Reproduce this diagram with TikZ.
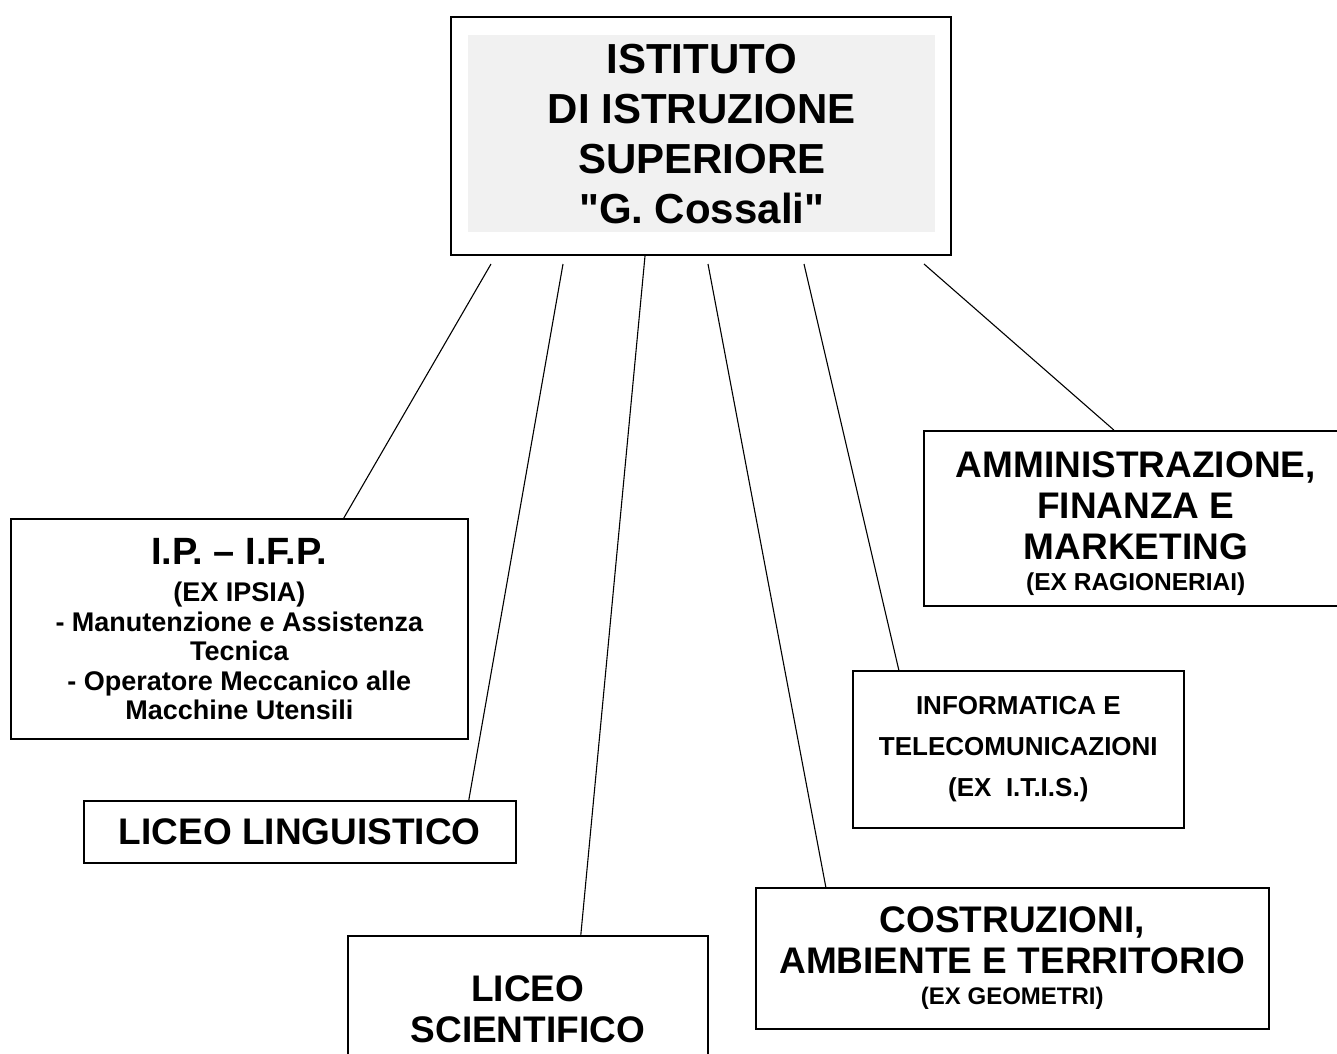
\documentclass[tikz,border=0pt]{standalone}
\usepackage{fontspec}
\setmainfont{Liberation Sans}[Ligatures=TeXOff]
\definecolor{titlegray}{HTML}{F1F1F1}

\begin{document}
\begin{tikzpicture}[x = 1pt, y = -1pt, font = \bfseries,
        box/.style = {draw, line width = 1.6pt, anchor = north west, align = center, inner sep = 0pt},
        link/.style = {line width = 1.1pt},
        big/.style = {font = \fontsize{37}{41}\selectfont\bfseries},
        small/.style = {font = \fontsize{26}{41}\selectfont\bfseries}]
        \useasboundingbox (0,0) rectangle (1337,1053);
        \clip (0,0) rectangle (1337,1053);

        % the school
        \node [box, line width = 2pt, minimum width = 500pt, minimum height = 238pt] (top) at (450,16) {};
        \node [fill = titlegray, anchor = north west, align = center, inner sep = 0pt,
               minimum width = 467pt, minimum height = 197pt,
               font = \fontsize{42}{50}\selectfont\bfseries] (name) at (468,35)
               {ISTITUTO\\DI ISTRUZIONE\\SUPERIORE\\"G. Cossali"};

        % the courses
        \node [box, minimum width = 457pt, minimum height = 220pt,
               font = \fontsize{27}{29.5}\selectfont\bfseries] (ip) at (10,518)
               {{\fontsize{38}{38}\selectfont I.P. – I.F.P.}\\[8pt]
                (EX IPSIA)\\- Manutenzione e Assistenza\\Tecnica\\- Operatore Meccanico alle\\Macchine Utensili};
        \node [box, big, minimum width = 432pt, minimum height = 62pt] (ling) at (83,800) {LICEO LINGUISTICO};
        \node [box, big, minimum width = 360pt, minimum height = 147pt] (sci) at (347,935) {LICEO\\SCIENTIFICO};
        \node [box, big, minimum width = 513pt, minimum height = 141pt] (cat) at (755,887)
               {COSTRUZIONI,\\AMBIENTE E TERRITORIO\\[-10pt]{\fontsize{24}{27}\selectfont (EX GEOMETRI)}};
        \node [box, small, minimum width = 331pt, minimum height = 157pt] (inf) at (852,670)
               {INFORMATICA E\\TELECOMUNICAZIONI\\(EX~~I.T.I.S.)};
        \node [box, big, minimum width = 424pt, minimum height = 175pt] (afm) at (923,430)
               {\rule{0pt}{36pt}AMMINISTRAZIONE,\\FINANZA E\\MARKETING\\[-10pt]{\fontsize{24.5}{27}\selectfont (EX RAGIONERIAI)}};

        % lines from the school
        \draw [link] ([xshift = -210pt, yshift = -8pt]top.south) -- ([xshift = 104.5pt]ip.north);
        \draw [link] ([xshift = -138pt, yshift = -8pt]top.south) -- ([xshift = 169pt]ling.north);
        \draw [link] ([xshift = -56pt]top.south) -- ([xshift = 53pt]sci.north);
        \draw [link] ([xshift = 7pt, yshift = -8pt]top.south) -- ([xshift = -186.5pt]cat.north);
        \draw [link] ([xshift = 103pt, yshift = -8pt]top.south) -- ([xshift = -119.5pt]inf.north);
        \draw [link] ([xshift = 223pt, yshift = -8pt]top.south) -- ([xshift = -22pt]afm.north);
\end{tikzpicture}
\end{document}
